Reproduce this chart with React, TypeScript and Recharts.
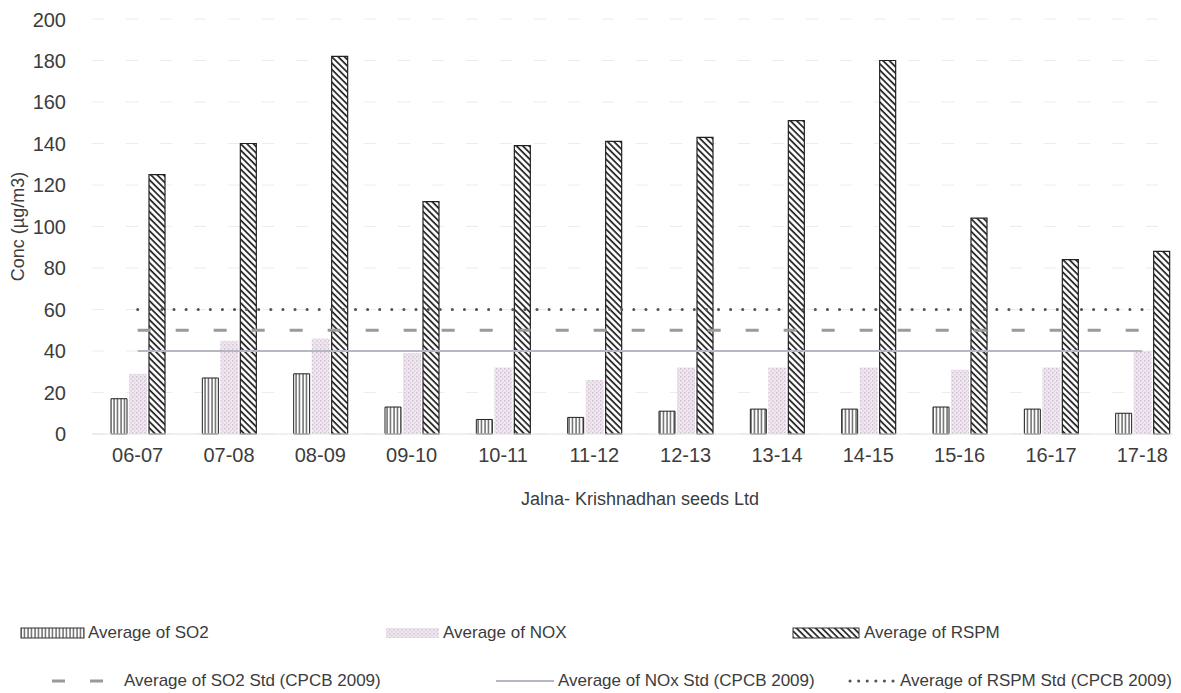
import { ComposedChart, Bar, Line, XAxis, YAxis, CartesianGrid, Legend } from 'recharts';

const categories = ['06-07', '07-08', '08-09', '09-10', '10-11', '11-12', '12-13', '13-14', '14-15', '15-16', '16-17', '17-18'];
const so2Values = [17, 27, 29, 13, 7, 8, 11, 12, 12, 13, 12, 10];
const noxValues = [29, 45, 46, 39, 32, 26, 32, 32, 32, 31, 32, 40];
const rspmValues = [125, 140, 182, 112, 139, 141, 143, 151, 180, 104, 84, 88];
const so2StdValues = [50, 50, 50, 50, 50, 50, 50, 50, 50, 50, 50, 50];
const noxStdValues = [40, 40, 40, 40, 40, 40, 40, 40, 40, 40, 40, 40];
const rspmStdValues = [60, 60, 60, 60, 60, 60, 60, 60, 60, 60, 60, 60];
const yTicks = [0, 20, 40, 60, 80, 100, 120, 140, 160, 180, 200];

const data = categories.map((name, i) => ({
  name,
  so2: so2Values[i],
  nox: noxValues[i],
  rspm: rspmValues[i],
  so2Std: so2StdValues[i],
  noxStd: noxStdValues[i],
  rspmStd: rspmStdValues[i],
}));

const FONT = "'Liberation Sans', Arial, sans-serif";
const TEXT = '#3c3c3c';

const Swatch = ({ kind }: { kind: string }) => {
  if (kind === 'so2') return <rect x={1} y={3} width={63} height={10} fill="url(#so2Pattern)" stroke="#333" strokeWidth={1} />;
  if (kind === 'nox') return <rect x={1} y={3} width={53} height={10} fill="url(#noxPattern)" />;
  if (kind === 'rspm') return <rect x={1} y={3} width={66} height={10} fill="url(#rspmPattern)" stroke="#333" strokeWidth={1} />;
  if (kind === 'so2Std') return <line x1={0} y1={8} x2={58} y2={8} stroke="#9a9a9a" strokeWidth={3} strokeDasharray="13 25" />;
  if (kind === 'noxStd') return <line x1={0} y1={8} x2={58} y2={8} stroke="#b9b6c4" strokeWidth={2} />;
  return <line x1={2} y1={8} x2={46} y2={8} stroke="#555" strokeWidth={3} strokeDasharray="0.1 8.5" strokeLinecap="round" />;
};

// legend spots, chart coords
const legendItems = [
  { kind: 'so2', label: 'Average of SO2', left: 12, top: 25, sw: 68 },
  { kind: 'nox', label: 'Average of NOX', left: 377, top: 25, sw: 58 },
  { kind: 'rspm', label: 'Average of RSPM', left: 784, top: 25, sw: 72 },
  { kind: 'so2Std', label: 'Average of SO2 Std (CPCB 2009)', left: 44, top: 73, sw: 72 },
  { kind: 'noxStd', label: 'Average of NOx Std (CPCB 2009)', left: 488, top: 73, sw: 62 },
  { kind: 'rspmStd', label: 'Average of RSPM Std (CPCB 2009)', left: 840, top: 73, sw: 52 },
];

const ChartLegend = () => (
  <div style={{ position: 'relative', width: 1180, height: 95, fontFamily: FONT, fontSize: 17, color: TEXT }}>
    {legendItems.map((item) => (
      <div key={item.kind} style={{ position: 'absolute', left: item.left, top: item.top, display: 'flex', alignItems: 'center', whiteSpace: 'nowrap' }}>
        <svg width={item.sw} height={16}>
          <Swatch kind={item.kind} />
        </svg>
        <span>{item.label}</span>
      </div>
    ))}
  </div>
);

export default function App() {
  return (
    <div style={{ width: 1173, height: 685, overflow: 'hidden', background: '#fff' }}>
      <ComposedChart
        width={1180}
        height={685}
        data={data}
        margin={{ top: 11, right: 0, left: 0, bottom: 184 }}
        barGap={2}
        barCategoryGap="20%"
      >
        <defs>
          <pattern id="so2Pattern" width={3.5} height={6} patternUnits="userSpaceOnUse">
            <rect width={3.5} height={6} fill="#fff" />
            <line x1={1} y1={0} x2={1} y2={6} stroke="#222" strokeWidth={1} />
          </pattern>
          <pattern id="noxPattern" width={4} height={4} patternUnits="userSpaceOnUse">
            <rect width={4} height={4} fill="#efe6ef" />
            <rect x={0} y={0} width={1.5} height={1.5} fill="#cfc2d2" />
            <rect x={2} y={2} width={1.5} height={1.5} fill="#ddd0dd" />
          </pattern>
          <pattern id="rspmPattern" width={4.5} height={4.5} patternUnits="userSpaceOnUse" patternTransform="rotate(-45)">
            <rect width={4.5} height={4.5} fill="#fff" />
            <line x1={1} y1={0} x2={1} y2={4.5} stroke="#1e1e1e" strokeWidth={1.7} />
          </pattern>
        </defs>
        <CartesianGrid vertical={false} stroke="#ececec" strokeDasharray="12 22" />
        <XAxis
          dataKey="name"
          axisLine={{ stroke: '#e2e2e2' }}
          tickLine={false}
          tickSize={0}
          tickMargin={14}
          height={75}
          tick={{ fontFamily: FONT, fontSize: 20, fill: TEXT }}
          label={{ value: 'Jalna- Krishnadhan seeds Ltd', position: 'insideBottom', offset: 4, style: { fontFamily: FONT, fontSize: 18, fill: TEXT } }}
        />
        <YAxis
          domain={[0, 200]}
          ticks={yTicks}
          axisLine={false}
          tickLine={false}
          tickSize={0}
          tickMargin={26}
          width={84}
          tick={{ fontFamily: FONT, fontSize: 20, fill: TEXT }}
          label={{ value: 'Conc (µg/m3)', angle: -90, position: 'insideLeft', offset: 10, style: { textAnchor: 'middle', fontFamily: FONT, fontSize: 18, fill: TEXT } }}
        />
        <Bar dataKey="so2" name="Average of SO2" barSize={16} fill="url(#so2Pattern)" stroke="#222" strokeWidth={1} isAnimationActive={false} />
        <Bar dataKey="nox" name="Average of NOX" barSize={18} fill="url(#noxPattern)" isAnimationActive={false} />
        <Bar dataKey="rspm" name="Average of RSPM" barSize={16} fill="url(#rspmPattern)" stroke="#222" strokeWidth={1.2} isAnimationActive={false} />
        <Line dataKey="so2Std" name="Average of SO2 Std (CPCB 2009)" stroke="#9a9a9a" strokeWidth={3} strokeDasharray="13 25" dot={false} isAnimationActive={false} />
        <Line dataKey="noxStd" name="Average of NOx Std (CPCB 2009)" stroke="#b9b6c4" strokeWidth={2} dot={false} isAnimationActive={false} />
        <Line dataKey="rspmStd" name="Average of RSPM Std (CPCB 2009)" stroke="#555" strokeWidth={3} strokeDasharray="0.1 12" strokeLinecap="round" dot={false} isAnimationActive={false} />
        <Legend
          layout="horizontal"
          verticalAlign="middle"
          align="center"
          wrapperStyle={{ left: 0, top: 590, width: 1180, height: 95 }}
          content={() => <ChartLegend />}
        />
      </ComposedChart>
    </div>
  );
}
